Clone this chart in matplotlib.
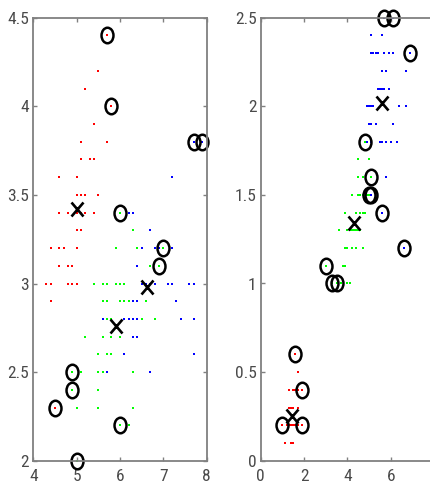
import matplotlib
matplotlib.use('Agg')
import matplotlib.pyplot as plt
from matplotlib import font_manager
from matplotlib.markers import MarkerStyle
from matplotlib.transforms import Affine2D

# prefer a narrow face, the reference ticks look condensed
installed = {f.name for f in font_manager.fontManager.ttflist}
narrow = [n for n in ['Liberation Sans Narrow', 'DejaVu Sans Condensed', 'Roboto Condensed',
                      'Open Sans Condensed', 'Noto Sans Condensed'] if n in installed]
if narrow:
    plt.rcParams['font.family'] = [narrow[0], 'DejaVu Sans']
    tick_size = 12.5
else:
    plt.rcParams['font.family'] = ['DejaVu Sans']
    plt.rcParams['font.stretch'] = 'condensed'
    tick_size = 11

sepal_length = [
    5.1, 4.9, 4.7, 4.6, 5.0, 5.4, 4.6, 5.0, 4.4, 4.9, 5.4, 4.8, 4.8, 4.3, 5.8, 5.7, 5.4, 5.1, 5.7, 5.1,
    5.4, 5.1, 4.6, 5.1, 4.8, 5.0, 5.0, 5.2, 5.2, 4.7, 4.8, 5.4, 5.2, 5.5, 4.9, 5.0, 5.5, 4.9, 4.4, 5.1,
    5.0, 4.5, 4.4, 5.0, 5.1, 4.8, 5.1, 4.6, 5.3, 5.0,
    7.0, 6.4, 6.9, 5.5, 6.5, 5.7, 6.3, 4.9, 6.6, 5.2, 5.0, 5.9, 6.0, 6.1, 5.6, 6.7, 5.6, 5.8, 6.2, 5.6,
    5.9, 6.1, 6.3, 6.1, 6.4, 6.6, 6.8, 6.7, 6.0, 5.7, 5.5, 5.5, 5.8, 6.0, 5.4, 6.0, 6.7, 6.3, 5.6, 5.5,
    5.5, 6.1, 5.8, 5.0, 5.6, 5.7, 5.7, 6.2, 5.1, 5.7,
    6.3, 5.8, 7.1, 6.3, 6.5, 7.6, 4.9, 7.3, 6.7, 7.2, 6.5, 6.4, 6.8, 5.7, 5.8, 6.4, 6.5, 7.7, 7.7, 6.0,
    6.9, 5.6, 7.7, 6.3, 6.7, 7.2, 6.2, 6.1, 6.4, 7.2, 7.4, 7.9, 6.4, 6.3, 6.1, 7.7, 6.3, 6.4, 6.0, 6.9,
    6.7, 6.9, 5.8, 6.8, 6.7, 6.7, 6.3, 6.5, 6.2, 5.9,
]
sepal_width = [
    3.5, 3.0, 3.2, 3.1, 3.6, 3.9, 3.4, 3.4, 2.9, 3.1, 3.7, 3.4, 3.0, 3.0, 4.0, 4.4, 3.9, 3.5, 3.8, 3.8,
    3.4, 3.7, 3.6, 3.3, 3.4, 3.0, 3.4, 3.5, 3.4, 3.2, 3.1, 3.4, 4.1, 4.2, 3.1, 3.2, 3.5, 3.1, 3.0, 3.4,
    3.5, 2.3, 3.2, 3.5, 3.8, 3.0, 3.8, 3.2, 3.7, 3.3,
    3.2, 3.2, 3.1, 2.3, 2.8, 2.8, 3.3, 2.4, 2.9, 2.7, 2.0, 3.0, 2.2, 2.9, 2.9, 3.1, 3.0, 2.7, 2.2, 2.5,
    3.2, 2.8, 2.5, 2.8, 2.9, 3.0, 2.8, 3.0, 2.9, 2.6, 2.4, 2.4, 2.7, 2.7, 3.0, 3.4, 3.1, 2.3, 3.0, 2.5,
    2.6, 3.0, 2.6, 2.3, 2.7, 3.0, 2.9, 2.9, 2.5, 2.8,
    3.3, 2.7, 3.0, 2.9, 3.0, 3.0, 2.5, 2.9, 2.5, 3.6, 3.2, 2.7, 3.0, 2.5, 2.8, 3.2, 3.0, 3.8, 2.6, 2.2,
    3.2, 2.8, 2.8, 2.7, 3.3, 3.2, 2.8, 3.0, 2.8, 3.0, 2.8, 3.8, 2.8, 2.8, 2.6, 3.0, 3.4, 3.1, 3.0, 3.1,
    3.1, 3.1, 2.7, 3.2, 3.3, 3.0, 2.5, 3.0, 3.4, 3.0,
]
petal_length = [
    1.4, 1.4, 1.3, 1.5, 1.4, 1.7, 1.4, 1.5, 1.4, 1.5, 1.5, 1.6, 1.4, 1.1, 1.2, 1.5, 1.3, 1.4, 1.7, 1.5,
    1.7, 1.5, 1.0, 1.7, 1.9, 1.6, 1.6, 1.5, 1.4, 1.6, 1.6, 1.5, 1.5, 1.4, 1.5, 1.2, 1.3, 1.5, 1.3, 1.5,
    1.3, 1.3, 1.3, 1.6, 1.9, 1.4, 1.6, 1.4, 1.5, 1.4,
    4.7, 4.5, 4.9, 4.0, 4.6, 4.5, 4.7, 3.3, 4.6, 3.9, 3.5, 4.2, 4.0, 4.7, 3.6, 4.4, 4.5, 4.1, 4.5, 3.9,
    4.8, 4.0, 4.9, 4.7, 4.3, 4.4, 4.8, 5.0, 4.5, 3.5, 3.8, 3.7, 3.9, 5.1, 4.5, 4.5, 4.7, 4.4, 4.1, 4.0,
    4.4, 4.6, 4.0, 3.3, 4.2, 4.2, 4.2, 4.3, 3.0, 4.1,
    6.0, 5.1, 5.9, 5.6, 5.8, 6.6, 4.5, 6.3, 5.8, 6.1, 5.1, 5.3, 5.5, 5.0, 5.1, 5.3, 5.5, 6.7, 6.9, 5.0,
    5.7, 4.9, 6.7, 4.9, 5.7, 6.0, 4.8, 4.9, 5.6, 5.8, 6.1, 6.4, 5.6, 5.1, 5.6, 6.1, 5.6, 5.5, 4.8, 5.4,
    5.6, 5.1, 5.1, 5.9, 5.7, 5.2, 5.0, 5.2, 5.4, 5.1,
]
petal_width = [
    0.2, 0.2, 0.2, 0.2, 0.2, 0.4, 0.3, 0.2, 0.2, 0.1, 0.2, 0.2, 0.1, 0.1, 0.2, 0.4, 0.4, 0.3, 0.3, 0.3,
    0.2, 0.4, 0.2, 0.5, 0.2, 0.2, 0.4, 0.2, 0.2, 0.2, 0.2, 0.4, 0.1, 0.2, 0.1, 0.2, 0.2, 0.1, 0.2, 0.2,
    0.3, 0.3, 0.2, 0.6, 0.4, 0.3, 0.2, 0.2, 0.2, 0.2,
    1.4, 1.5, 1.5, 1.3, 1.5, 1.3, 1.6, 1.0, 1.3, 1.4, 1.0, 1.5, 1.0, 1.4, 1.3, 1.4, 1.5, 1.0, 1.5, 1.1,
    1.8, 1.3, 1.5, 1.2, 1.3, 1.4, 1.4, 1.7, 1.5, 1.0, 1.1, 1.0, 1.2, 1.6, 1.5, 1.6, 1.5, 1.3, 1.3, 1.3,
    1.2, 1.4, 1.2, 1.0, 1.3, 1.2, 1.3, 1.3, 1.1, 1.3,
    2.5, 1.9, 2.1, 1.8, 2.2, 1.2, 1.7, 1.8, 1.8, 2.5, 2.0, 1.9, 2.1, 2.0, 2.4, 2.3, 1.8, 2.2, 2.3, 1.5,
    2.3, 2.0, 2.0, 1.8, 2.1, 1.8, 1.8, 1.8, 2.1, 1.6, 1.9, 2.0, 2.2, 1.5, 1.4, 2.3, 2.4, 1.8, 1.8, 2.1,
    2.4, 2.3, 1.9, 2.3, 2.5, 2.3, 1.9, 2.0, 2.3, 1.8,
]

# cluster colour of every sample, one letter per sample
labels_sepal = list(
    'r' * 50
    + 'gggggggggg' 'gggggggggg' 'gbgbbbgbgg' 'gggggggggg' 'gggggggggg'
    + 'ggbbbbgbbb' 'bbbbggbbbg' 'bbbbbbbgbb' 'bbbbbbbbgg' 'gggbbbgbbg'
)
labels_petal = list(
    'r' * 50
    + 'g' * 50
    + 'bbbbbbgbbb' 'bbbbbbbbbg' 'bbbbbbgbbb' 'bbbbbbbbgb' 'bbbbbbbbbb'
)

# circled samples (1-based sample numbers)
outliers_sepal = [16, 15, 118, 132, 86, 51, 53, 107, 58, 42, 63, 61]
outliers_petal = [145, 110, 119, 71, 84, 120, 134, 135, 106, 99, 58, 61, 44, 45, 23, 25]

# cluster centres (crosses)
centres_sepal_x = [5.01, 5.90, 6.62]
centres_sepal_y = [3.42, 2.76, 2.98]
centres_petal_x = [1.46, 4.29, 5.58]
centres_petal_y = [0.25, 1.34, 2.02]

colours = {'r': '#ff0000', 'g': '#00ff00', 'b': '#0000ff'}

circle = MarkerStyle('o', fillstyle='none', transform=Affine2D().scale(1.0, 1.3))
cross = MarkerStyle('x', transform=Affine2D().scale(1.0, 1.2))


def draw_panel(ax, xs, ys, labels, outliers, cx, cy, xlim, ylim, xticks, yticks, xlabels):
    for key in ['r', 'g', 'b']:
        px = [x for x, l in zip(xs, labels) if l == key]
        py = [y for y, l in zip(ys, labels) if l == key]
        ax.plot(px, py, linestyle='none', marker='s', ms=1.9, mew=0, color=colours[key])
    ox = [xs[i - 1] for i in outliers]
    oy = [ys[i - 1] for i in outliers]
    ax.plot(ox, oy, linestyle='none', marker=circle, ms=8.6, mew=1.8, color='black', clip_on=False)
    ax.plot(cx, cy, linestyle='none', marker=cross, ms=8.5, mew=1.9, color='black', clip_on=False)
    ax.set_xlim(xlim)
    ax.set_ylim(ylim)
    ax.set_xticks(xticks)
    ax.set_yticks(yticks)
    ax.set_xticklabels(xlabels)
    ax.set_yticklabels([f'{t:g}' for t in yticks])
    ax.tick_params(direction='in', length=3, width=1, color='#808080', labelcolor='#4a4a4a',
                   labelsize=tick_size, top=True, right=True)
    ax.tick_params(axis='x', pad=6)
    ax.tick_params(axis='y', pad=3)
    for s in ax.spines.values():
        s.set_color('#808080')
        s.set_linewidth(1.3)


fig = plt.figure(figsize=(4.3, 4.86), dpi=100)
ax1 = fig.add_axes([33.3 / 430, 25.3 / 486, 173.4 / 430, 443 / 486])
ax2 = fig.add_axes([260.7 / 430, 25.3 / 486, 173.4 / 430, 443 / 486])

draw_panel(ax1, sepal_length, sepal_width, labels_sepal, outliers_sepal,
           centres_sepal_x, centres_sepal_y, (4, 8), (2, 4.5),
           [4, 5, 6, 7, 8], [2, 2.5, 3, 3.5, 4, 4.5], ['4', '5', '6', '7', '8'])
# the right panel runs past the edge of the picture, its "8" is not visible
draw_panel(ax2, petal_length, petal_width, labels_petal, outliers_petal,
           centres_petal_x, centres_petal_y, (0, 8), (0, 2.5),
           [0, 2, 4, 6, 8], [0, 0.5, 1, 1.5, 2, 2.5], ['0', '2', '4', '6', ''])

fig.savefig('out.png', dpi=100)
